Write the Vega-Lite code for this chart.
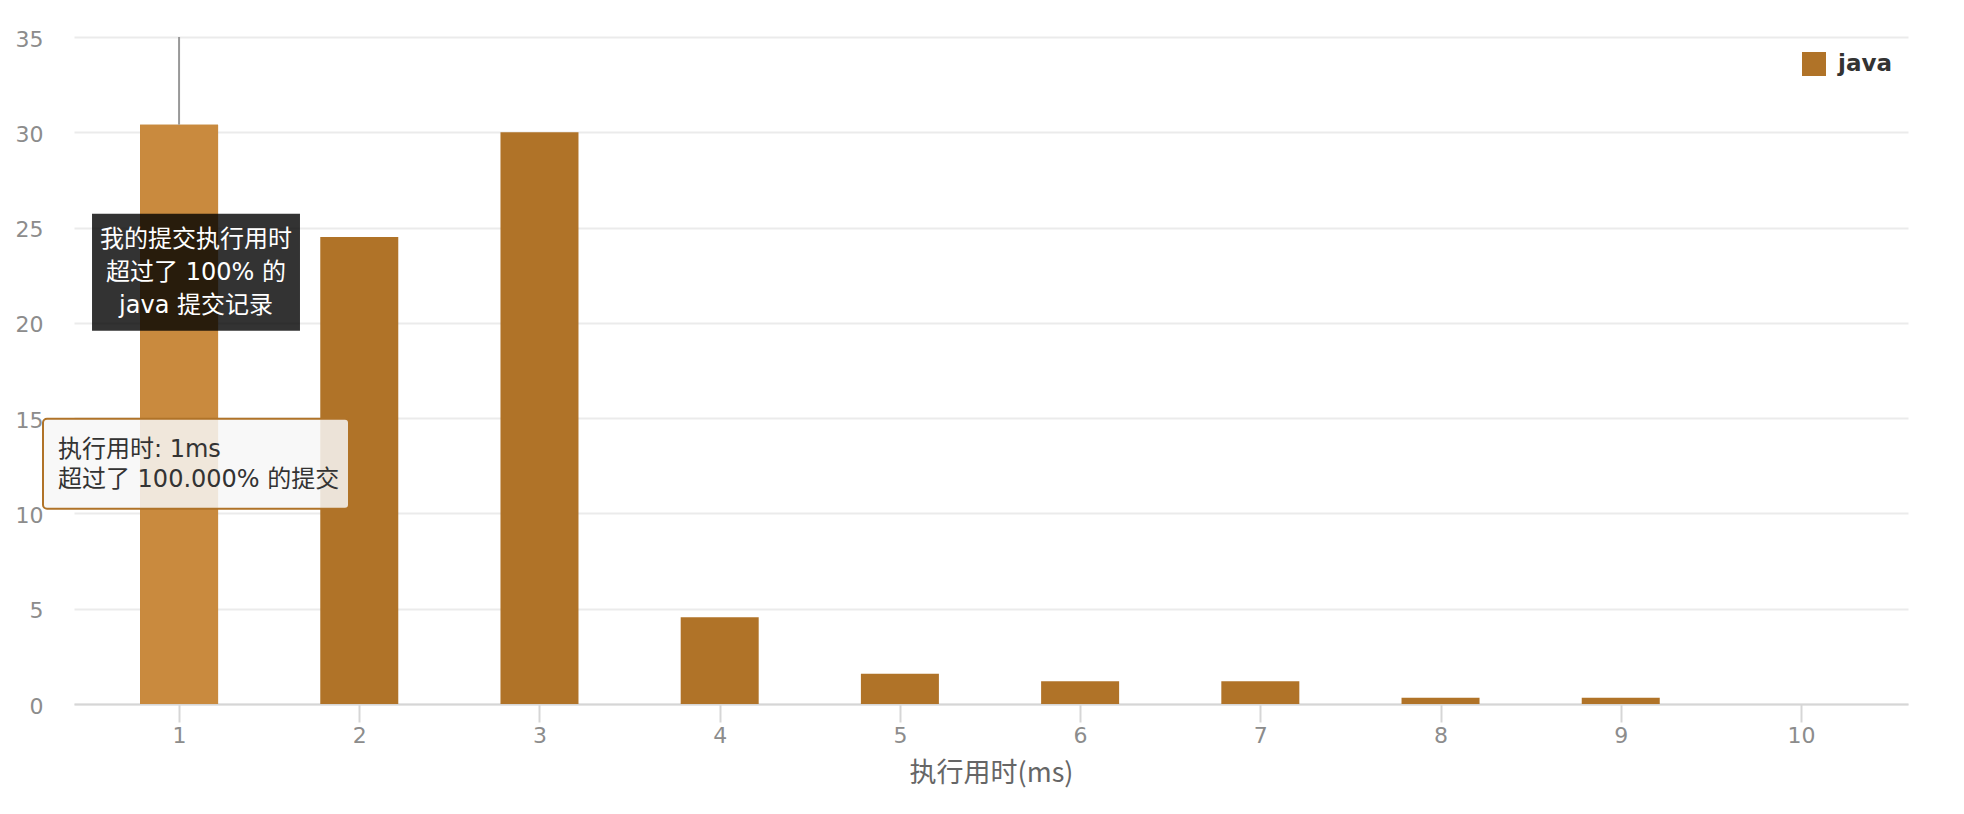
{
  "$schema": "https://vega.github.io/schema/vega-lite/v6.json",
  "width": 1834,
  "height": 667,
  "autosize": {"type": "none"},
  "padding": {"left": 74, "top": 37, "right": 56, "bottom": 110},
  "background": "white",
  "config": {
    "view": {"stroke": null},
    "font": "DejaVu Sans, Noto Sans CJK SC",
    "legend": {
      "orient": "none",
      "legendX": 1728,
      "legendY": 15,
      "padding": 0,
      "symbolType": "square",
      "symbolSize": 576,
      "symbolStrokeWidth": 0,
      "symbolOpacity": 1,
      "labelFontSize": 23,
      "labelFontWeight": "bold",
      "labelColor": "#333333",
      "labelOffset": 12,
      "labelFont": "DejaVu Sans"
    }
  },
  "datasets": {
    "bars": [
      {"ms": 1, "count": 30.4, "lang": "java"},
      {"ms": 2, "count": 24.5, "lang": "java"},
      {"ms": 3, "count": 30.0, "lang": "java"},
      {"ms": 4, "count": 4.55, "lang": "java"},
      {"ms": 5, "count": 1.59, "lang": "java"},
      {"ms": 6, "count": 1.19, "lang": "java"},
      {"ms": 7, "count": 1.19, "lang": "java"},
      {"ms": 8, "count": 0.33, "lang": "java"},
      {"ms": 9, "count": 0.33, "lang": "java"},
      {"ms": 10, "count": 0, "lang": "java"}
    ],
    "pointer": [{"ms": 1, "top": 30.4, "end": 35}],
    "darkBox": [{"x": 0.517, "x2": 1.671, "y": 25.72, "y2": 19.59}],
    "darkText": [
      {"x": 1.094, "y": 24.35, "text": "我的提交执行用时"},
      {"x": 1.094, "y": 22.62, "text": "超过了 100% 的"},
      {"x": 1.094, "y": 20.9, "text": "java 提交记录"}
    ],
    "lightBox": [{"x": 0.245, "x2": 1.943, "y": 14.97, "y2": 10.25}],
    "lightText": [
      {"x": 0.328, "y": 13.34, "text": "执行用时: 1ms"},
      {"x": 0.328, "y": 11.77, "text": "超过了 100.000% 的提交"}
    ]
  },
  "layer": [
    {
      "data": {"name": "bars"},
      "mark": {"type": "bar", "width": 78, "orient": "vertical"},
      "encoding": {
        "x": {
          "field": "ms",
          "type": "quantitative",
          "title": "执行用时(ms)",
          "scale": {"domain": [0.417, 10.594], "nice": false, "zero": false, "padding": 0},
          "axis": {
            "values": [1, 2, 3, 4, 5, 6, 7, 8, 9, 10],
            "format": "d",
            "grid": false,
            "domainColor": "#d6d6d6",
            "domainWidth": 2,
            "tickColor": "#d6d6d6",
            "tickWidth": 2,
            "tickSize": 18,
            "labelPadding": 3,
            "labelFontSize": 22,
            "labelColor": "#8c8c8c",
            "labelFont": "DejaVu Sans",
            "titleFontSize": 27,
            "titleColor": "#666666",
            "titleFontWeight": "normal",
            "titleFont": "Noto Sans CJK SC",
            "titlePadding": 14
          }
        },
        "y": {
          "field": "count",
          "type": "quantitative",
          "title": null,
          "scale": {"domain": [0, 35], "nice": false, "padding": 0},
          "axis": {
            "values": [0, 5, 10, 15, 20, 25, 30, 35],
            "domain": false,
            "ticks": false,
            "tickSize": 0,
            "labelPadding": 31,
            "labelFontSize": 22,
            "labelColor": "#8c8c8c",
            "labelFont": "DejaVu Sans",
            "labelOffset": 2,
            "gridColor": "#ebebeb",
            "gridWidth": 2
          }
        },
        "color": {
          "field": "lang",
          "type": "nominal",
          "scale": {"domain": ["java"], "range": ["#B07328"]},
          "legend": {"title": null}
        }
      }
    },
    {
      "data": {"name": "bars"},
      "transform": [{"filter": "datum.ms == 1"}],
      "mark": {"type": "bar", "width": 78, "orient": "vertical", "color": "#C98A3E"},
      "encoding": {
        "x": {"field": "ms", "type": "quantitative", "title": "执行用时(ms)"},
        "y": {"field": "count", "type": "quantitative", "title": null}
      }
    },
    {
      "data": {"name": "pointer"},
      "mark": {"type": "rule", "color": "#999999", "strokeWidth": 2},
      "encoding": {
        "x": {"field": "ms", "type": "quantitative", "title": "执行用时(ms)"},
        "y": {"field": "top", "type": "quantitative", "title": null},
        "y2": {"field": "end"}
      }
    },
    {
      "data": {"name": "darkBox"},
      "mark": {"type": "rect", "color": "#000000", "opacity": 0.8},
      "encoding": {
        "x": {"field": "x", "type": "quantitative", "title": "执行用时(ms)"},
        "x2": {"field": "x2"},
        "y": {"field": "y", "type": "quantitative", "title": null},
        "y2": {"field": "y2"}
      }
    },
    {
      "data": {"name": "darkText"},
      "mark": {"type": "text", "color": "#ffffff", "fontSize": 24, "align": "center", "baseline": "middle", "font": "DejaVu Sans, Noto Sans CJK SC"},
      "encoding": {
        "x": {"field": "x", "type": "quantitative", "title": "执行用时(ms)"},
        "y": {"field": "y", "type": "quantitative", "title": null},
        "text": {"field": "text"}
      }
    },
    {
      "data": {"name": "lightBox"},
      "mark": {"type": "rect", "fill": "#f7f7f7", "fillOpacity": 0.85, "stroke": "#B07328", "strokeWidth": 2, "cornerRadius": 4},
      "encoding": {
        "x": {"field": "x", "type": "quantitative", "title": "执行用时(ms)"},
        "x2": {"field": "x2"},
        "y": {"field": "y", "type": "quantitative", "title": null},
        "y2": {"field": "y2"}
      }
    },
    {
      "data": {"name": "lightText"},
      "mark": {"type": "text", "color": "#333333", "fontSize": 24, "align": "left", "baseline": "middle", "font": "DejaVu Sans, Noto Sans CJK SC"},
      "encoding": {
        "x": {"field": "x", "type": "quantitative", "title": "执行用时(ms)"},
        "y": {"field": "y", "type": "quantitative", "title": null},
        "text": {"field": "text"}
      }
    }
  ]
}
